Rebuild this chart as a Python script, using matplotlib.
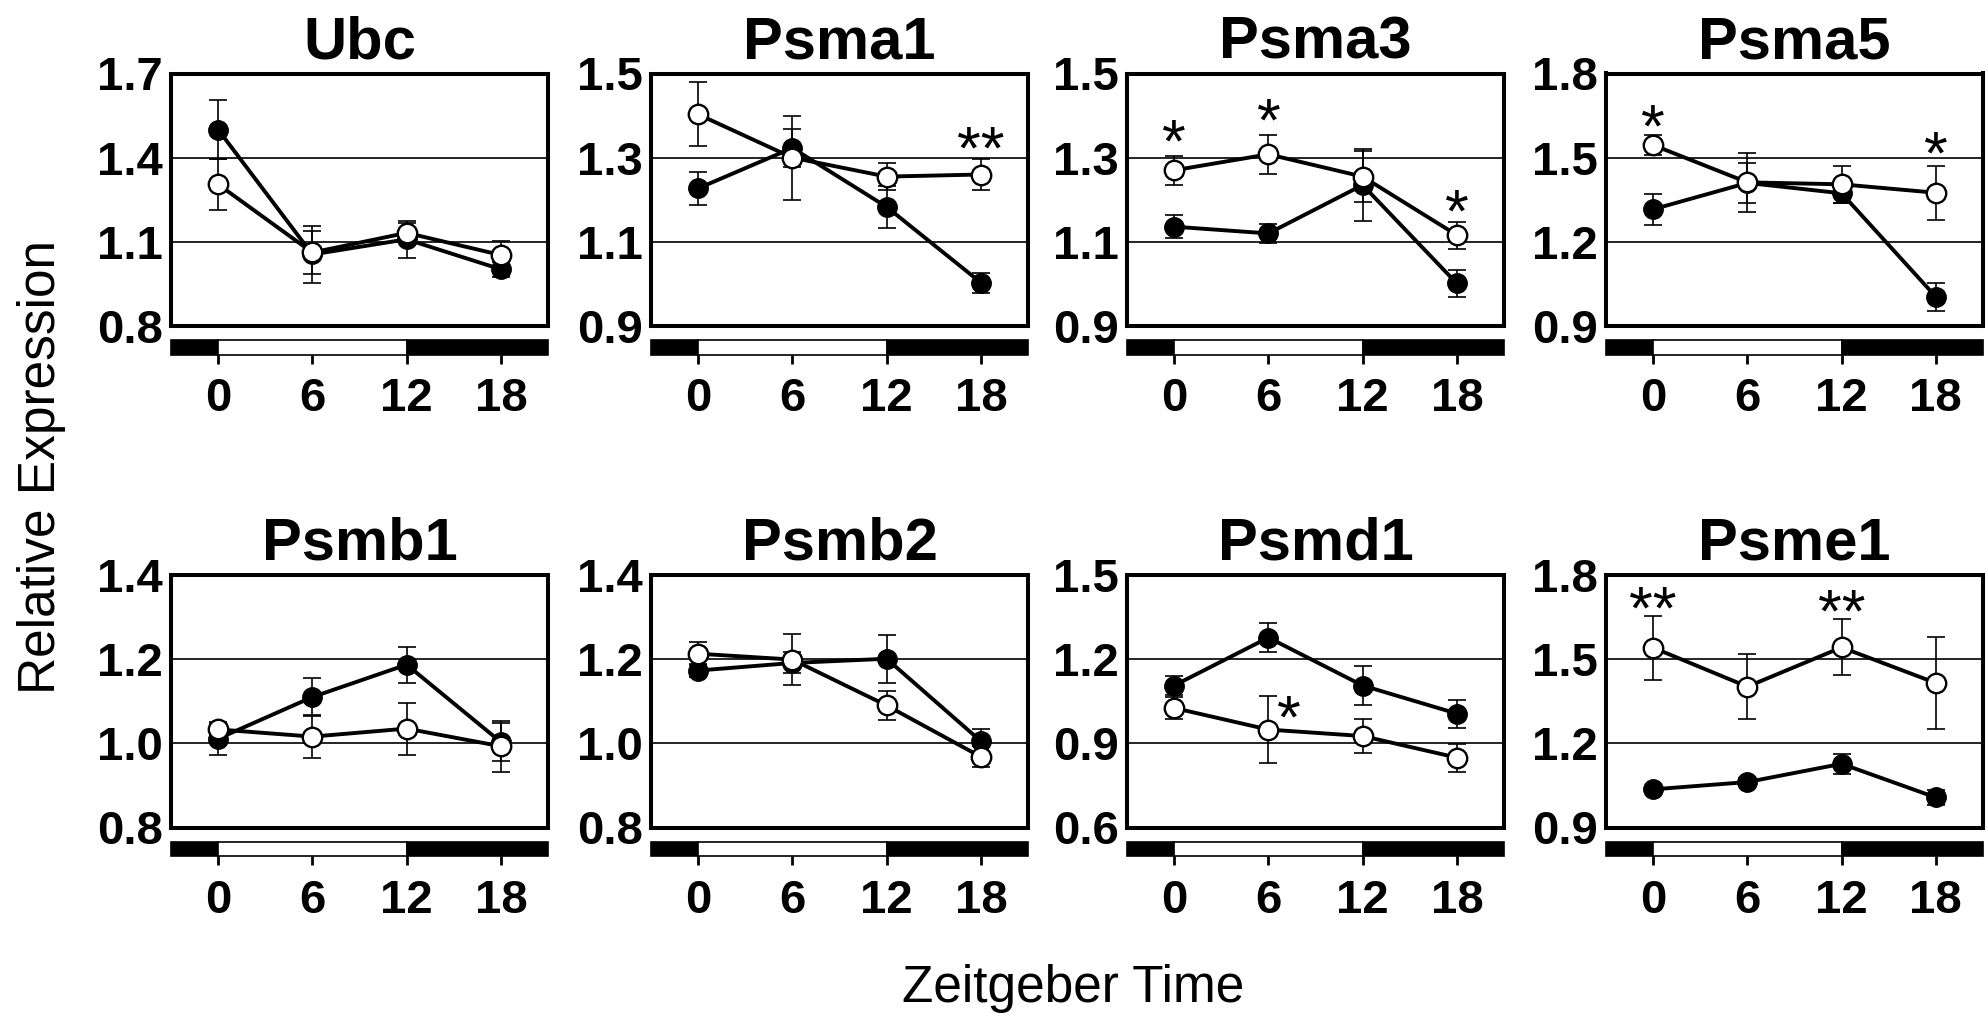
import matplotlib
matplotlib.use('Agg')
import matplotlib.pyplot as plt

plt.rcParams['font.family'] = ['Liberation Sans', 'DejaVu Sans']

# ---------------- data ----------------
zt = [0, 6, 12, 18]
genes = ['Ubc', 'Psma1', 'Psma3', 'Psma5', 'Psmb1', 'Psmb2', 'Psmd1', 'Psme1']

y_low = [0.8, 0.9, 0.9, 0.9, 0.8, 0.8, 0.6, 0.9]
y_step = [0.3, 0.2, 0.2, 0.3, 0.2, 0.2, 0.3, 0.3]

filled_mean = [
    [1.50, 1.055, 1.109, 1.002],   # Ubc
    [1.227, 1.323, 1.183, 1.003],  # Psma1
    [1.136, 1.120, 1.235, 1.001],  # Psma3
    [1.316, 1.410, 1.373, 1.004],  # Psma5
    [1.011, 1.110, 1.187, 1.003],  # Psmb1
    [1.173, 1.191, 1.201, 1.005],  # Psmb2
    [1.106, 1.277, 1.106, 1.006],  # Psmd1
    [1.036, 1.062, 1.127, 1.007],  # Psme1
]
filled_err = [
    [0.105, 0.10, 0.066, 0.026],
    [0.040, 0.046, 0.050, 0.024],
    [0.028, 0.023, 0.086, 0.033],
    [0.055, 0.070, 0.035, 0.050],
    [0.039, 0.046, 0.043, 0.045],
    [0.015, 0.025, 0.057, 0.030],
    [0.035, 0.053, 0.070, 0.050],
    [0.010, 0.015, 0.035, 0.027],
]
open_mean = [
    [1.305, 1.062, 1.132, 1.053],
    [1.403, 1.300, 1.255, 1.260],
    [1.270, 1.308, 1.255, 1.116],
    [1.545, 1.412, 1.405, 1.375],
    [1.033, 1.016, 1.035, 0.993],
    [1.213, 1.199, 1.090, 0.968],
    [1.026, 0.949, 0.926, 0.849],
    [1.541, 1.402, 1.542, 1.415],
]
open_err = [
    [0.090, 0.076, 0.035, 0.050],
    [0.076, 0.100, 0.032, 0.036],
    [0.034, 0.046, 0.060, 0.032],
    [0.037, 0.105, 0.067, 0.097],
    [0.012, 0.052, 0.062, 0.060],
    [0.027, 0.060, 0.034, 0.025],
    [0.038, 0.120, 0.060, 0.050],
    [0.114, 0.117, 0.100, 0.164],
]

# significance marks
star_gene = [1, 2, 2, 2, 3, 3, 6, 7, 7]
star_x = [18, 0, 6, 18, 0, 18, 7.3, 0, 12]
star_y = [1.334, 1.350, 1.401, 1.183, 1.628, 1.533, 1.009, 1.699, 1.688]
star_text = ['**', '*', '*', '*', '*', '*', '*', '**', '**']

# light/dark schedule
dark1 = (-3, 0)
light = (0, 12)
dark2 = (12, 21)

# ---------------- layout ----------------
W, H = 1988, 1024
fig = plt.figure(figsize=(W / 100, H / 100), dpi=100)

col_left = [171, 651, 1127, 1606]
row_top = [73.5, 575]
ax_w, ax_h = 377, 252.5
gap, bar_h = 14.0, 14.5

tick_fs = 34
for i, gene in enumerate(genes):
    r, c = divmod(i, 4)
    l, t = col_left[c], row_top[r]
    ax = fig.add_axes([l / W, 1 - (t + ax_h) / H, ax_w / W, ax_h / H])
    lo = y_low[i]
    st = y_step[i]
    ticks = [lo + k * st for k in range(4)]
    ax.set_xlim(-3, 21)
    ax.set_ylim(ticks[0], ticks[-1])
    ax.set_xticks([])
    ax.set_yticks(ticks)
    ax.set_yticklabels([f'{v:.1f}' for v in ticks], fontsize=tick_fs, fontweight='bold')
    ax.tick_params(axis='y', length=0, pad=6)
    for v in ticks[1:-1]:
        ax.axhline(v, color='black', lw=1.2, zorder=1)
    for sp in ax.spines.values():
        sp.set_linewidth(2.9)
        sp.set_zorder(6)

    ax.errorbar(zt, filled_mean[i], yerr=filled_err[i], fmt='none', ecolor='black',
                elinewidth=1.2, capsize=6.5, capthick=1.2, zorder=2)
    ax.errorbar(zt, open_mean[i], yerr=open_err[i], fmt='none', ecolor='black',
                elinewidth=1.2, capsize=6.5, capthick=1.2, zorder=2)
    ax.plot(zt, filled_mean[i], '-o', color='black', lw=2.8, ms=14,
            mfc='black', mec='black', zorder=3)
    ax.plot(zt, open_mean[i], '-o', color='black', lw=2.8, ms=14,
            mfc='white', mec='black', mew=1.7, zorder=4)

    ax.set_title(gene, fontsize=43, fontweight='bold', pad=11)

    for g, sx, sy, s in zip(star_gene, star_x, star_y, star_text):
        if g == i:
            ax.annotate(s, (sx, sy), xytext=(0, -18), textcoords='offset points',
                        ha='center', va='baseline', fontsize=44, zorder=5)

    # light/dark bar
    bx = fig.add_axes([l / W, 1 - (t + ax_h + gap + bar_h) / H, ax_w / W, bar_h / H])
    bx.set_xlim(-3, 21)
    bx.set_ylim(0, 1)
    bx.axvspan(*dark1, facecolor='black', edgecolor='black', lw=1.2, clip_on=False)
    bx.axvspan(*light, facecolor='white', edgecolor='black', lw=1.2, clip_on=False)
    bx.axvspan(*dark2, facecolor='black', edgecolor='black', lw=1.2, clip_on=False)
    for sp in bx.spines.values():
        sp.set_visible(False)
    bx.set_yticks([])
    bx.set_xticks(zt)
    bx.set_xticklabels([str(v) for v in zt], fontsize=tick_fs, fontweight='bold')
    bx.tick_params(axis='x', length=6.5, width=2, pad=10)

fig.text(42 / W, 1 - 467 / H, 'Relative Expression', rotation=90,
         ha='center', va='center', fontsize=37)
fig.text(1073 / W, 1 - 1002 / H, 'Zeitgeber Time', ha='center', va='baseline', fontsize=37)

fig.savefig('out.png', dpi=100)
